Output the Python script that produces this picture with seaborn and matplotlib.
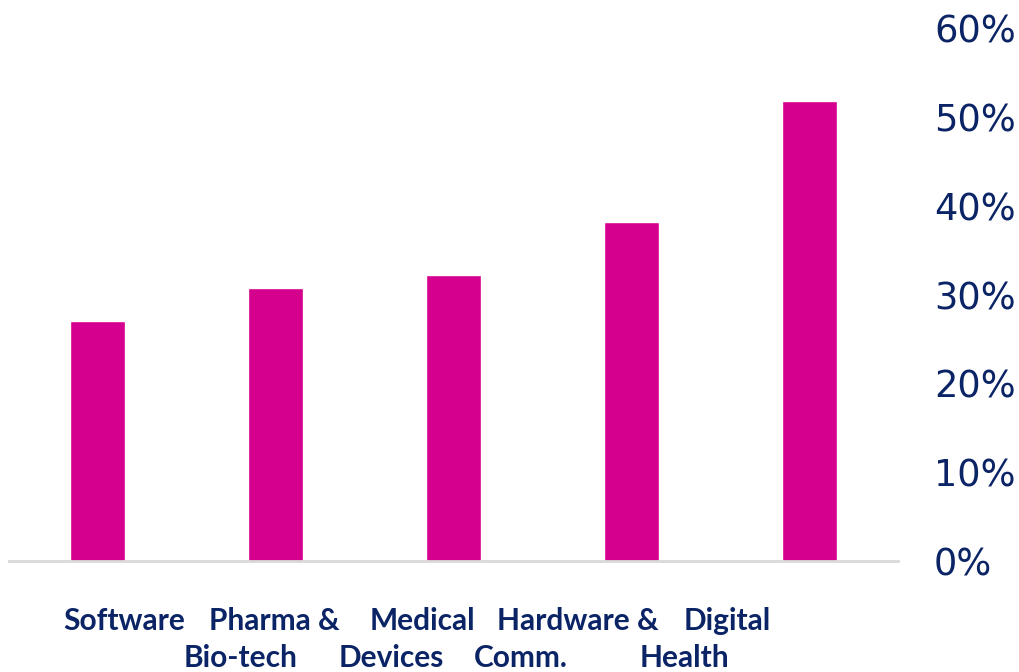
import matplotlib
matplotlib.use('Agg')
import matplotlib.pyplot as plt
import matplotlib.transforms as mtransforms
import seaborn as sns
import pandas as pd

categories = ["Software", "Pharma & Bio-tech", "Medical Devices", "Hardware & Comm.", "Digital Health"]
label_lines = [["Software"], ["Pharma &", "Bio-tech"], ["Medical", "Devices"],
               ["Hardware &", "Comm."], ["Digital", "Health"]]
values = [27.0, 30.7, 32.2, 38.2, 51.8]
ytick_values = [0, 10, 20, 30, 40, 50, 60]
ytick_labels = [f"{v}%" for v in ytick_values]

NAVY = "#0b2466"
MAGENTA = "#d6008f"

sns.set_theme(style="white")
plt.rcParams['font.family'] = ['DejaVu Sans']

df = pd.DataFrame({"category": categories, "value": values})

fig = plt.figure(figsize=(10.2, 6.72), dpi=100)
ax = fig.add_axes([9 / 1020, 1 - 561 / 672, 889 / 1020, 533 / 672])

sns.barplot(data=df, x="category", y="value", color=MAGENTA, width=0.31,
            saturation=1, ax=ax)

ax.set_ylim(0, 60)
ax.set_xlim(-0.5, len(categories) - 0.5)
ax.yaxis.tick_right()
ax.set_yticks(ytick_values)
ax.set_yticklabels(ytick_labels, color=NAVY, fontsize=26.5)
ax.tick_params(axis='y', length=0, pad=26)
ax.set_xticks([])
ax.set_xlabel("")
ax.set_ylabel("")

for side in ["top", "left", "right"]:
    ax.spines[side].set_visible(False)
ax.spines["bottom"].set_color("#d9d9d9")
ax.spines["bottom"].set_linewidth(2)

# category labels, each line shifted like the original layout
offsets = [[0.146], [-0.01, -0.197], [-0.174, -0.35], [-0.30, -0.62], [-0.46, -0.70]]
trans = mtransforms.blended_transform_factory(ax.transData, fig.transFigure)
line_y = [1 - 621 / 672, 1 - 658 / 672]
for i, lines in enumerate(label_lines):
    for j, txt in enumerate(lines):
        fig.text(i + offsets[i][j], line_y[j], txt, transform=trans,
                 ha="center", va="center", color=NAVY, fontsize=21.5,
                 fontweight="bold", family=["Lato", "DejaVu Sans"])

fig.savefig("out.png", dpi=100)
